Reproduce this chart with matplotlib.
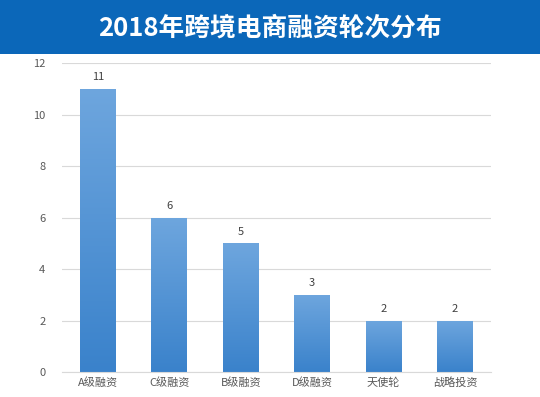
import numpy as np
import matplotlib
matplotlib.use("Agg")
import matplotlib.pyplot as plt
from matplotlib.colors import LinearSegmentedColormap

plt.rcParams['font.family'] = ['Noto Sans CJK SC', 'DejaVu Sans']

# data
categories = ["A级融资", "C级融资", "B级融资", "D级融资", "天使轮", "战略投资"]
counts = [11, 6, 5, 3, 2, 2]
y_ticks = [0, 2, 4, 6, 8, 10, 12]

title = "2018年跨境电商融资轮次分布"

fig = plt.figure(figsize=(5.4, 3.97), dpi=100)
fig.patch.set_facecolor("white")

# title banner
fig.patches.append(plt.Rectangle((0, 1 - 54 / 397), 1, 54 / 397, transform=fig.transFigure,
                                 facecolor="#0b67b9", edgecolor="none", zorder=0))
fig.text(0.5, 1 - 28 / 397, title, color="white", fontsize=18.5, fontweight=900,
         ha="center", va="center")

ax = fig.add_axes([0.115, 0.063, 0.794, 0.778])
x = np.arange(len(categories))
bar_w = 0.5

# gradient bars: lighter at top, darker at bottom
cmap = LinearSegmentedColormap.from_list("barblue", ["#3a82cb", "#6ea6de"])
grad = np.linspace(0, 1, 256).reshape(-1, 1)
bars = ax.bar(x, counts, width=bar_w, color="none", edgecolor="none", zorder=2)
for b in bars:
    x0, y0 = b.get_x(), b.get_y()
    w, h = b.get_width(), b.get_height()
    im = ax.imshow(grad, cmap=cmap, origin="lower", aspect="auto",
                   extent=[x0, x0 + w, y0, y0 + h], zorder=2)
    im.set_clip_path(b)

for xi, v in zip(x, counts):
    ax.text(xi, v + 0.25, str(v), ha="center", va="bottom", fontsize=8, color="#404040")

ax.set_xlim(-0.5, len(categories) - 0.5)
ax.set_ylim(0, 12)
ax.set_yticks(y_ticks)
ax.set_xticks(x)
ax.set_xticklabels(categories)
ax.tick_params(axis="both", length=0, labelsize=8, colors="#595959")
ax.tick_params(axis="y", pad=12)
ax.tick_params(axis="x", pad=4)
ax.yaxis.grid(True, color="#d9d9d9", linewidth=0.8)
ax.set_axisbelow(True)
for s in ["top", "right", "left"]:
    ax.spines[s].set_visible(False)
ax.spines["bottom"].set_color("#d9d9d9")

fig.savefig("out.png", dpi=100)
